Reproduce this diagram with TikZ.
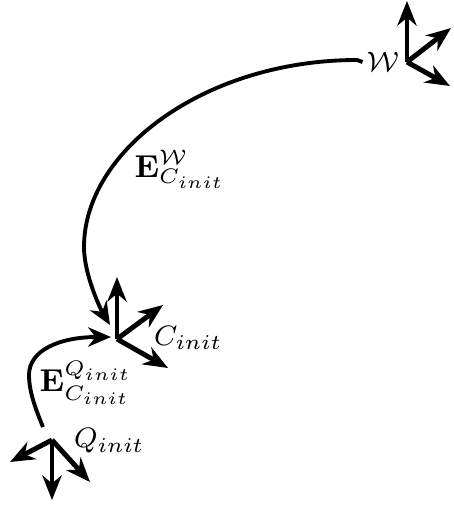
\documentclass[tikz,border=0pt]{standalone}
\usepackage{amsmath,amssymb}
\usetikzlibrary{positioning, arrows.meta}

\begin{document}
\begin{tikzpicture}[
    x=0.01cm, y=-0.01cm,
    axis/.style={-{Stealth[length=7pt, width=5.5pt]}, line width=1.4pt},
    trafo/.style={-{Stealth[length=6.5pt, width=5.5pt]}, line width=1.1pt},
    lbl/.style={inner sep=1pt, font=\footnotesize},
    elbl/.style={inner sep=1pt, font=\small},
]
\useasboundingbox (0,0) rectangle (453,508);

% ---- Frame origins ---------------------------------------------------------
\coordinate (world) at (407,62);
\coordinate (cinit) at (117,339);
\coordinate (qinit) at (52,440);

% ---- Coordinate frames -----------------------------------------------------
\draw[axis] (world) -- ++(0,-61);
\draw[axis] (world) -- ++(44,-34);
\draw[axis] (world) -- ++(43,24);

\draw[axis] (cinit) -- ++(0,-62);
\draw[axis] (cinit) -- ++(46,-34);
\draw[axis] (cinit) -- ++(51,29);

\draw[axis] (qinit) -- ++(0,60);
\draw[axis] (qinit) -- ++(-42,22);
\draw[axis] (qinit) -- ++(38,42);

% ---- Frame labels ----------------------------------------------------------
\node[lbl, anchor=east] (wlbl) at ([xshift=-0.4mm]world) {$\mathcal{W}$};
\node[lbl, anchor=west] (clbl) at (150,338) {$C_{init}$};
\node[lbl, anchor=west] (qlbl) at (70,441) {$Q_{init}$};

% ---- Transformations -------------------------------------------------------
\coordinate (ctip) at (110,325);
\coordinate (qtail) at (43,427);
\coordinate (cside) at (111,337);

\draw[trafo] (wlbl.west) -- (357,60)
    .. controls (206,60) and (84,150) .. (84,247)
    .. controls (84,275) and (101,310) .. (ctip);
\draw[trafo] (qtail)
    .. controls (36,410) and (29,392) .. (29,375)
    .. controls (29,350) and (60,337) .. (cside);

\node[elbl] (ewc) at (180,169) {$\mathbf{E}_{C_{init}}^{\mathcal{W}}$};
\node[elbl] (eqc) at (86,383) {$\mathbf{E}_{C_{init}}^{Q_{init}}$};

\end{tikzpicture}
\end{document}
